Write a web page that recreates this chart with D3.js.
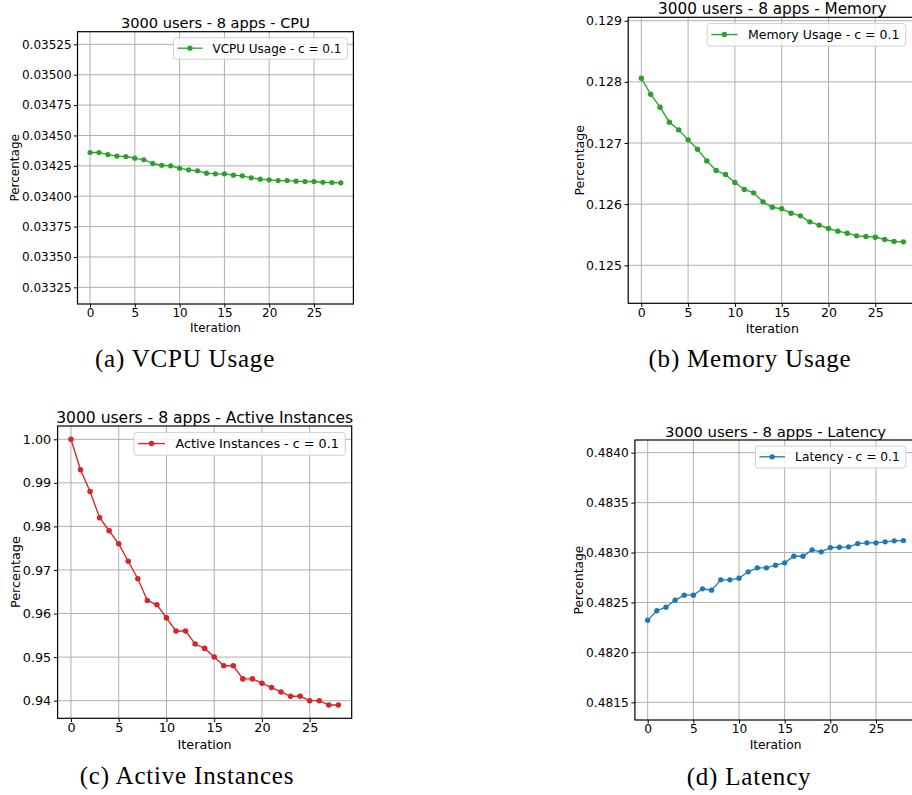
<!DOCTYPE html>
<html>
<head>
<meta charset="utf-8">
<script src="https://cdn.jsdelivr.net/npm/d3@7"></script>
<style>
  body { margin: 0; background: #fff; }
  svg { display: block; font-family: "DejaVu Sans", sans-serif; }
  .grid line { stroke: #b0b0b0; stroke-width: 1; }
  .caption { font-family: "Liberation Serif", serif; font-size: 25px; letter-spacing: 0.8px; }
</style>
</head>
<body>
<svg width="912" height="795"></svg>
<script>
// Data
const iterations = d3.range(0, 29);
const xTicks = [0, 5, 10, 15, 20, 25];

const cpuUsage = [0.03436, 0.03436, 0.034343, 0.03433, 0.034327, 0.034313, 0.03430, 0.03427,
  0.034255, 0.03425, 0.03423, 0.034217, 0.034209, 0.03419, 0.034184, 0.034184, 0.034173,
  0.034168, 0.034151, 0.03414, 0.034135, 0.034129, 0.034129, 0.034124, 0.034121, 0.034121,
  0.034115, 0.034113, 0.03411];
const cpuTicks = [0.03325, 0.0335, 0.03375, 0.034, 0.03425, 0.0345, 0.03475, 0.035, 0.03525];

const memoryUsage = [0.12806, 0.127798, 0.127586, 0.127341, 0.127215, 0.127052, 0.126899,
  0.126708, 0.12655, 0.126485, 0.126354, 0.12624, 0.126185, 0.126038, 0.12595, 0.125924,
  0.125853, 0.125809, 0.125711, 0.125657, 0.125602, 0.125559, 0.125526, 0.125482, 0.125471,
  0.12546, 0.125422, 0.12539, 0.125384];
const memoryTicks = [0.125, 0.126, 0.127, 0.128, 0.129];

const activeInstances = [1.0, 0.993, 0.988, 0.982, 0.979, 0.976, 0.972, 0.968, 0.963, 0.962,
  0.959, 0.956, 0.956, 0.953, 0.952, 0.950, 0.948, 0.948, 0.945, 0.945, 0.944, 0.943, 0.942,
  0.941, 0.941, 0.940, 0.940, 0.939, 0.939];
const instanceTicks = [0.94, 0.95, 0.96, 0.97, 0.98, 0.99, 1.0];

const latency = [0.482323, 0.482417, 0.482453, 0.482523, 0.482573, 0.482573, 0.482637,
  0.482623, 0.482727, 0.482727, 0.482743, 0.482807, 0.482847, 0.482847, 0.482873, 0.482897,
  0.482963, 0.482963, 0.483027, 0.483007, 0.48305, 0.483053, 0.483057, 0.48309, 0.483097,
  0.483097, 0.483107, 0.483117, 0.48312];
const latencyTicks = [0.4815, 0.482, 0.4825, 0.483, 0.4835, 0.484];

// Panel layout (each subfigure is scaled a little differently in the source)
const panels = [
  { title: '3000 users - 8 apps - CPU', legend: 'VCPU Usage - c = 0.1', values: cpuUsage,
    ticks: cpuTicks, fmt: '.5f', yDomain: [0.033113, 0.035354], color: '#2ca02c',
    left: 77.5, right: 353.4, top: 31.7, bottom: 304, labelX: 15,
    caption: '(a) VCPU Usage', capX: 185, capY: 367 },
  { title: '3000 users - 8 apps - Memory', legend: 'Memory Usage - c = 0.1', values: memoryUsage,
    ticks: memoryTicks, fmt: '.3f', yDomain: [0.124379, 0.129056], color: '#2ca02c',
    left: 628.2, right: 916.5, top: 17.3, bottom: 303.3, labelX: 580,
    caption: '(b) Memory Usage', capX: 750, capY: 367 },
  { title: '3000 users - 8 apps - Active Instances', legend: 'Active Instances - c = 0.1', values: activeInstances,
    ticks: instanceTicks, fmt: '.2f', yDomain: [0.93595, 1.00305], color: '#d62728',
    left: 57.6, right: 351.7, top: 426, bottom: 718.3, labelX: 16,
    caption: '(c) Active Instances', capX: 187, capY: 784 },
  { title: '3000 users - 8 apps - Latency', legend: 'Latency - c = 0.1', values: latency,
    ticks: latencyTicks, fmt: '.4f', yDomain: [0.481323, 0.484127], color: '#1f77b4',
    left: 634.9, right: 916.2, top: 440, bottom: 720, labelX: 579,
    caption: '(d) Latency', capX: 749, capY: 785 }
];

const svg = d3.select('svg');

panels.forEach(p => {
  let g = svg.append('g');
  let s = (p.right - p.left) / 30.8 / 8.96;   // scale of this subfigure
  let fs = (12 * s) + 'px';

  let xScale = d3.scaleLinear().domain([-1.4, 29.4]).range([p.left, p.right]);
  let yScale = d3.scaleLinear().domain(p.yDomain).range([p.bottom, p.top]);

  // Grid
  let grid = g.append('g').attr('class', 'grid');
  grid.selectAll('.gx').data(xTicks).enter().append('line')
    .attr('x1', d => xScale(d)).attr('x2', d => xScale(d))
    .attr('y1', p.top).attr('y2', p.bottom);
  grid.selectAll('.gy').data(p.ticks).enter().append('line')
    .attr('x1', p.left).attr('x2', p.right)
    .attr('y1', d => yScale(d)).attr('y2', d => yScale(d));

  // Axes
  let xAxis = d3.axisBottom(xScale).tickValues(xTicks).tickSize(3.5 * s).tickPadding(1 * s);
  g.append('g')
    .attr('transform', `translate(0, ${p.bottom})`)
    .style('font-size', fs)
    .call(xAxis)
    .call(sel => sel.select('.domain').remove());

  let yAxis = d3.axisLeft(yScale).tickValues(p.ticks).tickFormat(d3.format(p.fmt))
    .tickSize(3.5 * s).tickPadding(2.5 * s);
  g.append('g')
    .attr('transform', `translate(${p.left}, 0)`)
    .style('font-size', fs)
    .call(yAxis)
    .call(sel => sel.select('.domain').remove());

  g.selectAll('.tick text').attr('font-family', '"DejaVu Sans", sans-serif').attr('fill', '#000');
  g.selectAll('.tick line').attr('stroke', '#000');

  // Line + markers
  let line = d3.line()
    .x((d, i) => xScale(iterations[i]))
    .y(d => yScale(d));

  g.append('path')
    .datum(p.values)
    .attr('fill', 'none')
    .attr('stroke', p.color)
    .attr('stroke-width', 1.3 * s)
    .attr('d', line);

  g.selectAll('.dot').data(p.values).enter().append('circle')
    .attr('cx', (d, i) => xScale(iterations[i]))
    .attr('cy', d => yScale(d))
    .attr('r', 2.6 * s)
    .attr('fill', p.color);

  // Frame
  g.append('rect')
    .attr('x', p.left).attr('y', p.top)
    .attr('width', p.right - p.left).attr('height', p.bottom - p.top)
    .attr('fill', 'none').attr('stroke', '#000').attr('stroke-width', 1.2);

  // Title
  g.append('text')
    .text(p.title)
    .attr('x', (p.left + p.right) / 2)
    .attr('y', p.top - 3.5)
    .attr('text-anchor', 'middle')
    .style('font-size', (14.6 * s) + 'px');

  // Axis labels
  g.append('text')
    .text('Iteration')
    .attr('x', (p.left + p.right) / 2)
    .attr('y', p.bottom + 28.5 * s)
    .attr('text-anchor', 'middle')
    .style('font-size', fs);

  g.append('text')
    .text('Percentage')
    .attr('transform', `translate(${p.labelX + 4}, ${(p.top + p.bottom) / 2}) rotate(-90)`)
    .attr('text-anchor', 'middle')
    .style('font-size', fs);

  // Legend
  let legend = g.append('g');
  let box = legend.append('rect')
    .attr('fill', 'white').attr('fill-opacity', 0.8)
    .attr('stroke', '#d0d0d0').attr('rx', 3);
  let label = legend.append('text')
    .text(p.legend)
    .attr('x', 39 * s).attr('y', 15 * s)
    .style('font-size', fs);
  let boxW = label.node().getComputedTextLength() + 45 * s;
  box.attr('width', boxW).attr('height', 21.5 * s);
  legend.append('line')
    .attr('x1', 4 * s).attr('x2', 29 * s).attr('y1', 10.5 * s).attr('y2', 10.5 * s)
    .attr('stroke', p.color).attr('stroke-width', 1.3 * s);
  legend.append('circle')
    .attr('cx', 16.5 * s).attr('cy', 10.5 * s).attr('r', 2.6 * s).attr('fill', p.color);
  let legendRight = Math.min(p.right, 912) - 6 * s;
  legend.attr('transform', `translate(${legendRight - boxW}, ${p.top + 6 * s})`);

  // Caption
  svg.append('text')
    .attr('class', 'caption')
    .text(p.caption)
    .attr('x', p.capX)
    .attr('y', p.capY)
    .attr('text-anchor', 'middle');
});
</script>
</body>
</html>
